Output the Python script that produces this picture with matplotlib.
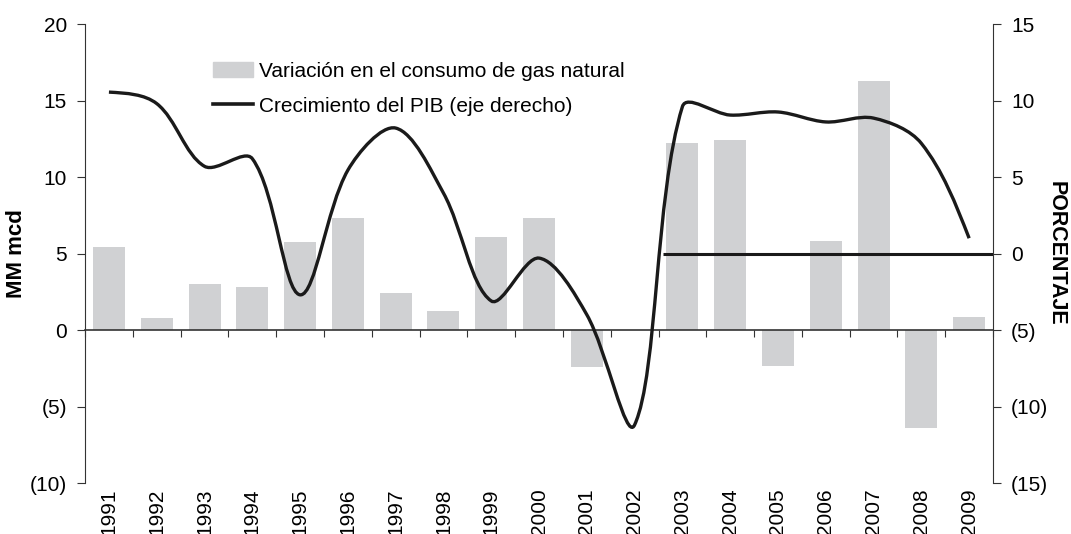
import numpy as np
import matplotlib
matplotlib.use("Agg")
import matplotlib.pyplot as plt
from matplotlib.path import Path
from matplotlib.patches import PathPatch, Patch
from matplotlib.lines import Line2D
from matplotlib.ticker import FuncFormatter

matplotlib.rcParams["font.family"] = ["Liberation Sans", "DejaVu Sans"]
matplotlib.rcParams["font.size"] = 15

years = [str(y) for y in range(1991, 2010)]
gas_var = [5.4, 0.8, 3.0, 2.8, 5.75, 7.35, 2.4, 1.25, 6.1, 7.3,
           -2.4, 0.0, 12.2, 12.45, -2.35, 5.8, 16.3, -6.4, 0.85]
pib = [10.55, 9.8, 5.7, 6.2, -2.7, 5.45, 8.2, 3.95, -3.1, -0.3,
       -4.0, -11.2, 9.6, 9.05, 9.25, 8.6, 8.85, 7.2, 1.0]
zero_line_start = 11.6  # stray right-axis zero line starts mid-2002

bar_color = "#d0d1d3"
line_color = "#1a1a1a"


def paren_fmt(v, pos):
    if v < 0:
        return "({:d})".format(int(round(-v)))
    return "{:d}".format(int(round(v)))


def smooth_path(xs, ys, sx=47.8, sy=15.3):
    # excel-like smoothing: bezier controls scaled by neighbouring chord lengths
    pts = np.column_stack([xs, ys]).astype(float)
    n = len(pts)
    scale = np.array([sx, sy])
    d = np.linalg.norm(np.diff(pts, axis=0) * scale, axis=1)
    out_c = np.zeros_like(pts)
    in_c = np.zeros_like(pts)
    for i in range(n):
        if i == 0 or i == n - 1:
            out_c[i] = pts[i]
            in_c[i] = pts[i]
            continue
        t = pts[i + 1] - pts[i - 1]
        din, dout = d[i - 1], d[i]
        out_c[i] = pts[i] + t * dout / (din + dout) / 3.0
        in_c[i] = pts[i] - t * din / (din + dout) / 3.0
    out_c[0] = pts[0] + (in_c[1] - pts[0]) / 2.0
    in_c[-1] = pts[-1] + (out_c[-2] - pts[-1]) / 2.0
    verts = [pts[0]]
    codes = [Path.MOVETO]
    for i in range(n - 1):
        verts += [out_c[i], in_c[i + 1], pts[i + 1]]
        codes += [Path.CURVE4] * 3
    return Path(verts, codes)


fig = plt.figure(figsize=(10.71, 5.34), dpi=100)
ax = fig.add_axes([0.0794, 0.0955, 0.8478, 0.8595])
x = np.arange(len(years))

ax.bar(x, gas_var, width=0.67, color=bar_color, zorder=1)
ax.set_xlim(-0.5, len(years) - 0.5)
ax.set_ylim(-10, 20)
ax.set_yticks(np.arange(-10, 21, 5))
ax.yaxis.set_major_formatter(FuncFormatter(paren_fmt))

ax.spines["top"].set_visible(False)
ax.spines["right"].set_visible(False)
ax.spines["bottom"].set_position(("data", 0))
ax.spines["bottom"].set_linewidth(1.2)
ax.spines["bottom"].set_color("#333333")
ax.spines["left"].set_color("#333333")
ax.set_xticks(np.arange(len(years) + 1) - 0.5)
ax.tick_params(axis="x", length=5, labelbottom=False, color="#333333")
ax.tick_params(axis="y", length=6, color="#333333", pad=7)
ax.set_ylabel("MM mcd", fontweight="bold", fontsize=16, labelpad=2)

for i, yr in enumerate(years):
    ax.text(i, -0.012, yr, rotation=90, ha="center", va="top",
            transform=ax.get_xaxis_transform())

ax2 = ax.twinx()
ax2.set_ylim(-15, 15)
ax2.set_yticks(np.arange(-15, 16, 5))
ax2.yaxis.set_major_formatter(FuncFormatter(paren_fmt))
for s in ["top", "left", "bottom"]:
    ax2.spines[s].set_visible(False)
ax2.spines["right"].set_color("#333333")
ax2.tick_params(axis="y", length=6, color="#333333", pad=7)
ax2.set_ylabel("PORCENTAJE", fontweight="bold", fontsize=15.5,
               rotation=270, labelpad=13)

ax2.hlines(0, zero_line_start, len(years) - 0.5, color=line_color, lw=2.2)
ax2.add_patch(PathPatch(smooth_path(x, pib), fill=False,
                        edgecolor=line_color, lw=2.4, capstyle="butt"))

handles = [Patch(color=bar_color), Line2D([], [], color=line_color, lw=2.6)]
labels = ["Variación en el consumo de gas natural",
          "Crecimiento del PIB (eje derecho)"]
ax.legend(handles, labels, loc="upper left", bbox_to_anchor=(0.12, 0.958),
          frameon=False, handlelength=1.95, handletextpad=0.25,
          labelspacing=0.75, fontsize=15)

fig.savefig("out.png", dpi=100)
